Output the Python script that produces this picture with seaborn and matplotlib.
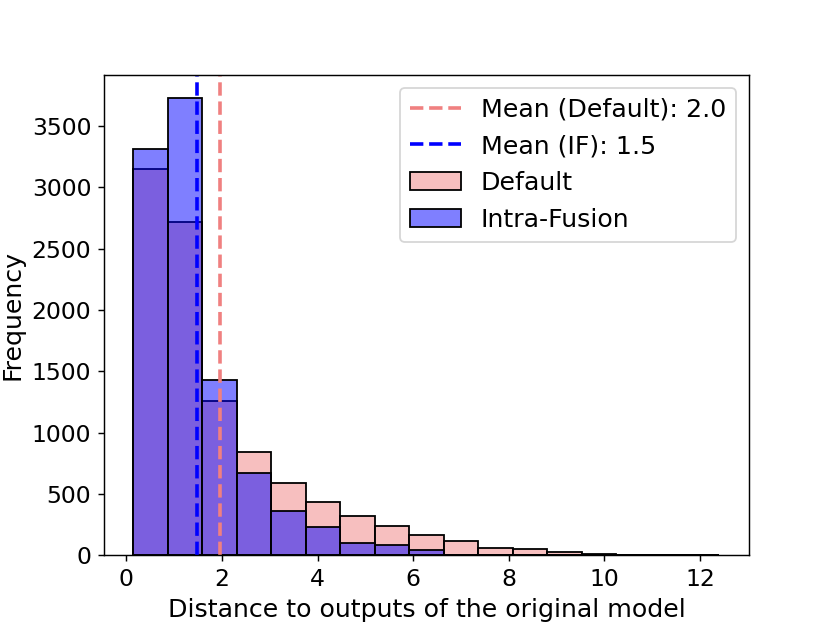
import numpy as np
import pandas as pd
import matplotlib
matplotlib.use("Agg")
import matplotlib.pyplot as plt
import seaborn as sns

# shared histogram bin edges
bin_edges = [0.145, 0.867, 1.588, 2.310, 3.031, 3.753, 4.474, 5.196, 5.917,
             6.639, 7.360, 8.082, 8.803, 9.525, 10.246, 10.968, 11.689, 12.410]

# counts per bin
default_counts = [3150, 2720, 1260, 845, 592, 435, 321, 242, 167, 118,
                  58, 52, 29, 12, 4, 2, 1]
if_counts = [3310, 3730, 1430, 672, 362, 231, 98, 82, 40, 5,
             0, 0, 0, 0, 0, 0, 0]

mean_default = 1.96
mean_if = 1.47

edges = np.array(bin_edges)
centers = (edges[:-1] + edges[1:]) / 2
df_default = pd.DataFrame({'distance': centers, 'count': default_counts})
df_if = pd.DataFrame({'distance': centers, 'count': if_counts})

fig, ax = plt.subplots(figsize=(6.4, 4.8), dpi=130)

sns.histplot(data=df_default, x='distance', weights='count', bins=bin_edges,
             color='lightcoral', alpha=0.5, edgecolor='black', linewidth=1.0,
             label='Default', ax=ax)
sns.histplot(data=df_if, x='distance', weights='count', bins=bin_edges,
             color='blue', alpha=0.5, edgecolor='black', linewidth=1.0,
             label='Intra-Fusion', ax=ax)

ax.axvline(mean_default, color='lightcoral', linestyle='--', linewidth=2,
           label=f'Mean (Default): {mean_default:.1f}')
ax.axvline(mean_if, color='blue', linestyle='--', linewidth=2,
           label=f'Mean (IF): {mean_if:.1f}')

ax.set_xlabel('Distance to outputs of the original model', fontsize=14)
ax.set_ylabel('Frequency', fontsize=14)
ax.tick_params(labelsize=13)
ax.legend(fontsize=14)

plt.savefig('out.png', dpi=130)
